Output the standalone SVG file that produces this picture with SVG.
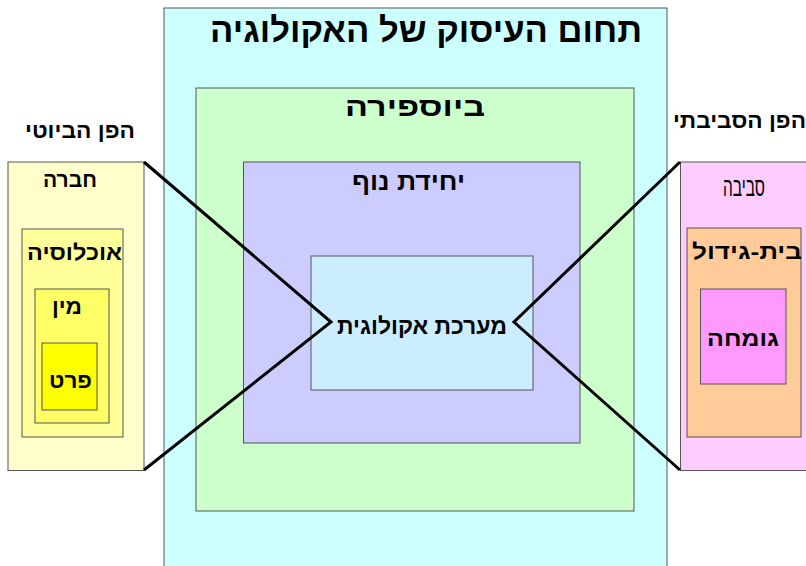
<svg xmlns="http://www.w3.org/2000/svg" width="806" height="566" viewBox="0 0 806 566">
<style>
.box{stroke:#555;stroke-width:1}
.t{font-family:"Liberation Sans","DejaVu Sans",sans-serif;font-weight:bold;fill:#000;text-anchor:middle;direction:rtl}
.r{font-family:"Liberation Sans","DejaVu Sans",sans-serif;font-weight:normal;fill:#000;text-anchor:middle;direction:rtl}
.conn{fill:none;stroke:#000;stroke-width:3;stroke-linejoin:miter}
</style>
<rect width="806" height="566" fill="#fff"/>
<g id="ecology-domain">
<rect class="box" x="164" y="8" width="503" height="570" fill="#CCFFFF"/>
<text class="t" x="426" y="42" font-size="34" textLength="432" lengthAdjust="spacingAndGlyphs">תחום העיסוק של האקולוגיה</text>
</g>
<g id="biosphere">
<rect class="box" x="196" y="88" width="438" height="423" fill="#CCFFCC"/>
<text class="t" x="415" y="116" font-size="27" textLength="140" lengthAdjust="spacingAndGlyphs">ביוספירה</text>
</g>
<g id="landscape">
<rect class="box" x="243.5" y="162" width="336.5" height="281" fill="#CCCCFF"/>
<text class="t" x="408.5" y="190" font-size="24" textLength="113" lengthAdjust="spacingAndGlyphs">יחידת נוף</text>
</g>
<g id="ecosystem">
<rect class="box" x="311" y="256" width="222" height="134" fill="#CCECFF"/>
<text class="t" x="422" y="334" font-size="23" textLength="170" lengthAdjust="spacingAndGlyphs">מערכת אקולוגית</text>
</g>
<text class="t" x="80" y="138" font-size="22" textLength="110" lengthAdjust="spacingAndGlyphs">הפן הביוטי</text>
<text class="t" x="739.5" y="128" font-size="22" textLength="133" lengthAdjust="spacingAndGlyphs">הפן הסביבתי</text>
<g id="community">
<rect class="box" x="8" y="162" width="136" height="308.5" fill="#FFFFCC"/>
<text class="t" x="70" y="187" font-size="22" textLength="54" lengthAdjust="spacingAndGlyphs">חברה</text>
</g>
<g id="population">
<rect class="box" x="22" y="229" width="101" height="208" fill="#FFFF99"/>
<text class="t" x="74.5" y="260" font-size="22" textLength="95" lengthAdjust="spacingAndGlyphs">אוכלוסיה</text>
</g>
<g id="species">
<rect class="box" x="35" y="289" width="74" height="134" fill="#FFFF66"/>
<text class="t" x="67" y="314" font-size="22" textLength="30" lengthAdjust="spacingAndGlyphs">מין</text>
</g>
<g id="individual">
<rect class="box" x="42" y="343" width="55" height="67" fill="#FFFF00"/>
<text class="t" x="70.5" y="388" font-size="22" textLength="43" lengthAdjust="spacingAndGlyphs">פרט</text>
</g>
<g id="environment">
<rect class="box" x="680.5" y="162" width="130" height="308.5" fill="#FFCCFF"/>
<text class="r" x="744" y="196" font-size="26" textLength="42" lengthAdjust="spacingAndGlyphs">סביבה</text>
</g>
<g id="habitat">
<rect class="box" x="687" y="228" width="114" height="209" fill="#FFCC99"/>
<text class="t" x="747" y="259" font-size="22" textLength="110" lengthAdjust="spacingAndGlyphs">בית-גידול</text>
</g>
<g id="niche">
<rect class="box" x="700.5" y="289" width="85.5" height="95" fill="#FF99FF"/>
<text class="t" x="743" y="346" font-size="22" textLength="72" lengthAdjust="spacingAndGlyphs">גומחה</text>
</g>
<g id="connectors">
<polyline class="conn" points="144,162 331,322 144,470"/>
<polyline class="conn" points="680,162 514,322 680,470"/>
</g>
</svg>
